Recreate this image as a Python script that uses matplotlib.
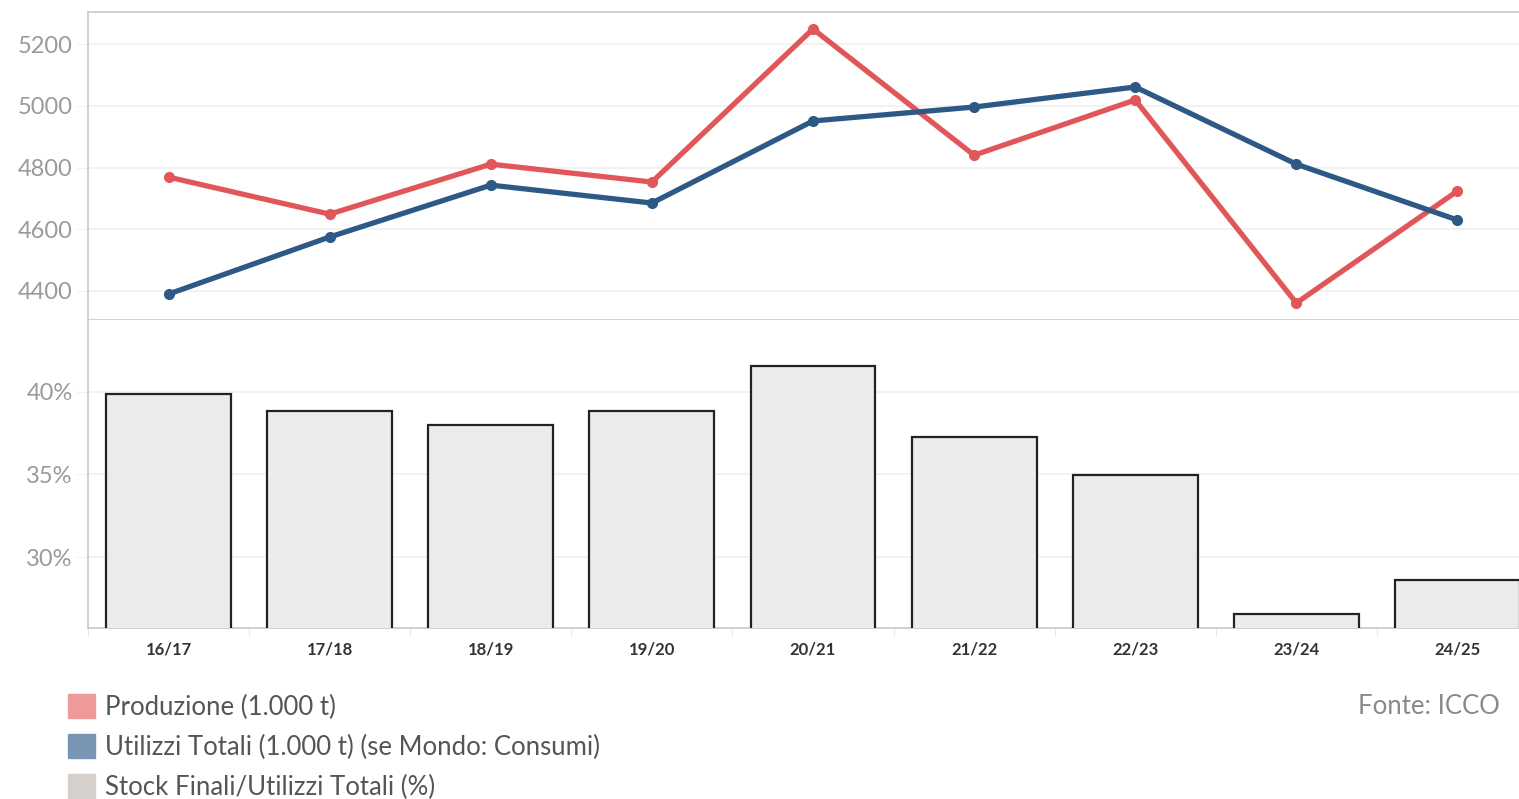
import matplotlib.pyplot as plt
from matplotlib.patches import Patch
from matplotlib.ticker import FixedLocator, FuncFormatter

# Campagne e valori (1.000 t) / rapporto stock-utilizzi (%)
campagne = ['16/17', '17/18', '18/19', '19/20', '20/21', '21/22', '22/23', '23/24', '24/25']
produzione = [4769, 4649, 4811, 4753, 5249, 4840, 5019, 4361, 4724]
utilizzi = [4390, 4575, 4743, 4685, 4951, 4996, 5061, 4811, 4630]
stock_ratio = [39.9, 38.85, 38.0, 38.85, 41.6, 37.27, 34.94, 26.55, 28.6]

red = '#E15759'
blue = '#2D5986'
grid_c = '#F0F0F0'
spine_c = '#C8C8C8'
tick_c = '#9A9A9A'

plt.rcParams['font.family'] = ['Lato', 'DejaVu Sans']

W, H = 1519, 799
fig = plt.figure(figsize=(W / 100, H / 100), dpi=100)

left = 88 / W
width = (1538 - 88) / W
ax1 = fig.add_axes([left, 1 - 320 / H, width, (320 - 12) / H])
ax2 = fig.add_axes([left, 1 - 628 / H, width, (628 - 320) / H])

x = list(range(len(campagne)))

# pannello superiore: produzione e utilizzi
ax1.plot(x, produzione, color=red, lw=3.8, marker='o', ms=7, zorder=3)
ax1.plot(x, utilizzi, color=blue, lw=3.8, marker='o', ms=7, zorder=3)
ax1.set_xlim(-0.5, len(campagne) - 0.5)
ax1.set_ylim(4306, 5304)
ax1.set_yticks([4400, 4600, 4800, 5000, 5200])
ax1.grid(axis='y', color=grid_c, lw=1.2)
ax1.set_xticks([])

# pannello inferiore: barre stock/utilizzi
ax2.bar(x, stock_ratio, width=0.775, color='#ECEBEA', edgecolor='#222222', lw=1.6, zorder=3)
ax2.set_xlim(-0.5, len(campagne) - 0.5)
ax2.set_ylim(25.7, 44.36)
ax2.set_yticks([30, 35, 40])
ax2.yaxis.set_major_formatter(FuncFormatter(lambda v, p: f'{v:.0f}%'))
ax2.grid(axis='y', color=grid_c, lw=1.2)
ax2.set_xticks(x)
ax2.set_xticklabels(campagne, fontsize=12, fontweight='bold', color='#333333')
ax2.xaxis.set_minor_locator(FixedLocator([i - 0.5 for i in range(len(campagne) + 1)]))
ax2.tick_params(axis='x', which='major', length=0, pad=10)
ax2.tick_params(axis='x', which='minor', length=6, color='#E2E2E2')

for ax in (ax1, ax2):
    ax.set_axisbelow(True)
    ax.tick_params(axis='y', length=8, color=grid_c, labelsize=17, labelcolor=tick_c, pad=3)
    ax.spines['right'].set_visible(False)
    for s in ('left', 'top', 'bottom'):
        ax.spines[s].set_color(spine_c)
        ax.spines[s].set_linewidth(1.2)
ax2.spines['top'].set_visible(False)

# legenda
handles = [Patch(color='#EE9A9B'), Patch(color='#7896B3'), Patch(color='#D6D0CD')]
labels = ['Produzione (1.000 t)',
          'Utilizzi Totali (1.000 t) (se Mondo: Consumi)',
          'Stock Finali/Utilizzi Totali (%)']
fig.legend(handles, labels, loc='upper left', bbox_to_anchor=(68 / W, 1 - 694 / H),
           frameon=False, fontsize=18.5, labelcolor='#555555',
           handlelength=1.05, handleheight=1.05, handletextpad=0.4, labelspacing=0.56,
           borderaxespad=0, borderpad=0)

fig.text(1500 / W, 1 - 706 / H, 'Fonte: ICCO', ha='right', va='center',
         fontsize=18.5, color='#8A8A8A')

fig.savefig('out.png', dpi=100)
